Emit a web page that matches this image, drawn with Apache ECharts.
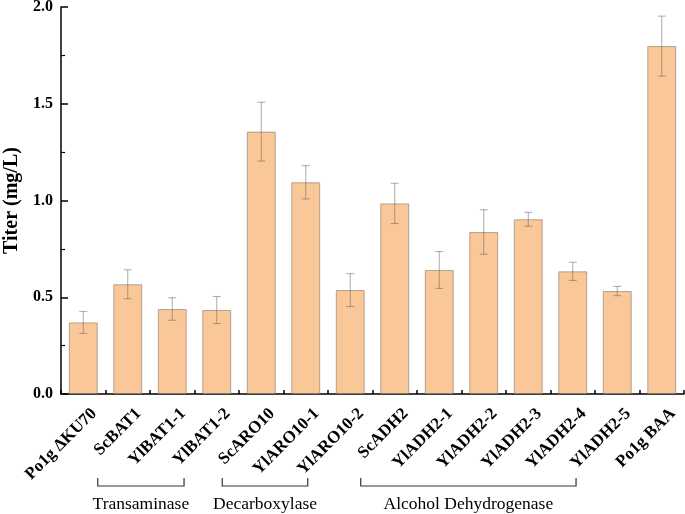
<!DOCTYPE html>
<html><head><meta charset="utf-8">
<script src="https://cdn.jsdelivr.net/npm/echarts@6/dist/echarts.min.js"></script>
<style>html,body{margin:0;padding:0;background:#fff}#c{width:685px;height:514px}</style>
</head><body><div id="c"></div>
<script>
const categories = ['Po1g \u0394KU70','ScBAT1','YlBAT1-1','YlBAT1-2','ScARO10','YlARO10-1','YlARO10-2','ScADH2','YlADH2-1','YlADH2-2','YlADH2-3','YlADH2-4','YlADH2-5','Po1g BAA'];
const titer = [0.370,0.567,0.439,0.434,1.356,1.094,0.537,0.985,0.641,0.837,0.903,0.634,0.532,1.798];
const errors = [0.057,0.075,0.058,0.070,0.152,0.086,0.085,0.104,0.095,0.115,0.036,0.047,0.024,0.155];
const yMin = 0, yMax = 2.0, yInterval = 0.5;
const groupNames = ['Transaminase','Decarboxylase','Alcohol Dehydrogenase'];
const groupFirst = ['ScBAT1','ScARO10','ScADH2'];
const groupLast = ['YlBAT1-2','YlARO10-2','YlADH2-4'];

// layout (pixel offsets of the hand-drawn brackets relative to category centres)
const bracketLeftOff = [-30, -39, -34];
const bracketRightOff = [-32.7, -42.5, 3.3];
const FONT = '"Liberation Serif", "Times New Roman", serif';

const chart = echarts.init(document.getElementById('c'), null, {renderer:'canvas'});
chart.setOption({
  animation: false,
  backgroundColor: '#fff',
  grid: {left: 61, right: 1, top: 7, bottom: 120, containLabel: false, outerBoundsMode: 'none'},
  xAxis: {
    type: 'category', data: categories,
    axisLine: {lineStyle: {color: '#000', width: 1.5}},
    axisTick: {show: true, inside: true, length: 4, lineStyle: {color: '#000', width: 1.5}},
    axisLabel: {rotate: 45, interval: 0, margin: 16, color: '#000', fontFamily: FONT, fontWeight: 'bold', fontSize: 17,
      verticalAlign: 'top', padding: [0, -7, 0, 0]}
  },
  yAxis: {
    type: 'value', min: yMin, max: yMax, interval: yInterval,
    name: 'Titer (mg/L)', nameLocation: 'middle', nameGap: 36,
    nameTextStyle: {color: '#000', fontFamily: FONT, fontWeight: 'bold', fontSize: 20},
    axisLine: {show: true, lineStyle: {color: '#000', width: 1.5}},
    axisTick: {show: true, inside: true, length: 7, lineStyle: {color: '#000', width: 1.5}},
    minorTick: {show: true, splitNumber: 2, length: 4, lineStyle: {color: '#000', width: 1.2}},
    splitLine: {show: false},
    axisLabel: {margin: 8, color: '#000', fontFamily: FONT, fontWeight: 'bold', fontSize: 16,
      formatter: v => v.toFixed(1)}
  },
  series: [
    {type: 'bar', data: titer, barWidth: '65%',
     itemStyle: {color: '#FAC898', borderColor: 'rgba(120,110,100,0.55)', borderWidth: 1}},
    {type: 'custom', z: 10,
     data: categories.map((c, i) => [i, titer[i], errors[i]]),
     encode: {x: 0, y: 1},
     renderItem: function (params, api) {
       const i = api.value(0), v = api.value(1), e = api.value(2);
       const t = api.coord([i, v + e]), b = api.coord([i, v - e]);
       const hw = 4;
       const st = {stroke: 'rgba(90,90,90,0.5)', lineWidth: 1};
       return {type: 'group', children: [
         {type: 'line', shape: {x1: t[0], y1: t[1], x2: b[0], y2: b[1]}, style: st},
         {type: 'line', shape: {x1: t[0]-hw, y1: t[1], x2: t[0]+hw, y2: t[1]}, style: st},
         {type: 'line', shape: {x1: b[0]-hw, y1: b[1], x2: b[0]+hw, y2: b[1]}, style: st}
       ]};
     }}
  ]
});

function drawBrackets() {
  const y0 = chart.convertToPixel({yAxisIndex: 0}, 0);
  const els = [];
  groupNames.forEach((name, g) => {
    const xa = chart.convertToPixel({xAxisIndex: 0}, groupFirst[g]) + bracketLeftOff[g];
    const xb = chart.convertToPixel({xAxisIndex: 0}, groupLast[g]) + bracketRightOff[g];
    const top = y0 + 84, bot = y0 + 92;
    els.push({type: 'polyline', shape: {points: [[xa, top], [xa, bot], [xb, bot], [xb, top]]},
      style: {stroke: '#333', lineWidth: 1.2, fill: null}});
    els.push({type: 'text', x: (xa + xb) / 2, y: y0 + 110,
      style: {text: name, fill: '#000', font: '17.5px ' + FONT, align: 'center', verticalAlign: 'middle'}});
  });
  chart.setOption({graphic: els});
}
drawBrackets();
</script></body></html>
